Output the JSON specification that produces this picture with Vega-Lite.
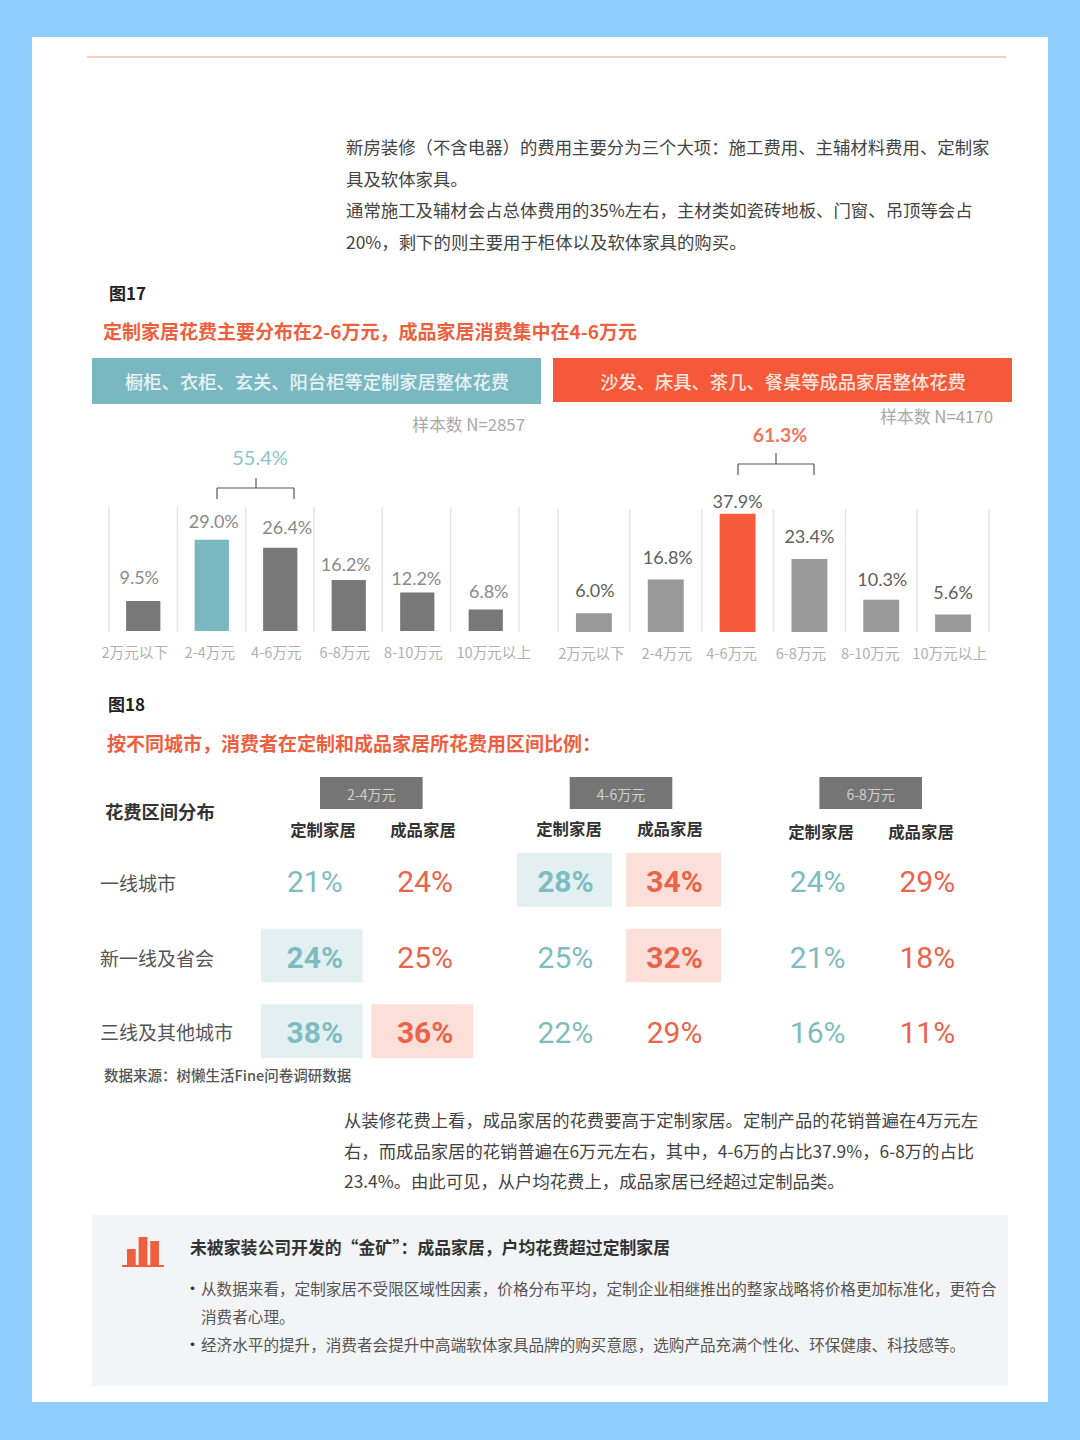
{
"$schema":"https://vega.github.io/schema/vega-lite/v6.json",
"width":1080,"height":1440,"padding":0,
"autosize":{"type":"fit","contains":"padding"},
"background":"#90CEFF",
"config":{"view":{"stroke":null},"font":"Noto Sans CJK SC","text":{"baseline":"middle","font":"Noto Sans CJK SC"}},
"resolve":{"scale":{"x":"independent","y":"independent"}},
"datasets":{
"bars1":[{"range":"2万元以下","v":9.5,"label":"9.5%"},{"range":"2-4万元","v":29.0,"label":"29.0%"},{"range":"4-6万元","v":26.4,"label":"26.4%"},{"range":"6-8万元","v":16.2,"label":"16.2%"},{"range":"8-10万元","v":12.2,"label":"12.2%"},{"range":"10万元以上","v":6.8,"label":"6.8%"}],
"bars2":[{"range":"2万元以下","v":6.0,"label":"6.0%"},{"range":"2-4万元","v":16.8,"label":"16.8%"},{"range":"4-6万元","v":37.9,"label":"37.9%"},{"range":"6-8万元","v":23.4,"label":"23.4%"},{"range":"8-10万元","v":10.3,"label":"10.3%"},{"range":"10万元以上","v":5.6,"label":"5.6%"}],
"edges":[{"edge":0},{"edge":1},{"edge":2},{"edge":3},{"edge":4},{"edge":5},{"edge":6}],
"ranges":[{"range":"2-4万元"},{"range":"4-6万元"},{"range":"6-8万元"}],
"types":[{"type":"定制家居"},{"type":"成品家居"}],
"table":[
{"range":"2-4万元","city":"一线城市","type":"定制家居","label":"21%","hl":false},{"range":"2-4万元","city":"一线城市","type":"成品家居","label":"24%","hl":false},
{"range":"2-4万元","city":"新一线及省会","type":"定制家居","label":"24%","hl":true},{"range":"2-4万元","city":"新一线及省会","type":"成品家居","label":"25%","hl":false},
{"range":"2-4万元","city":"三线及其他城市","type":"定制家居","label":"38%","hl":true},{"range":"2-4万元","city":"三线及其他城市","type":"成品家居","label":"36%","hl":true},
{"range":"4-6万元","city":"一线城市","type":"定制家居","label":"28%","hl":true},{"range":"4-6万元","city":"一线城市","type":"成品家居","label":"34%","hl":true},
{"range":"4-6万元","city":"新一线及省会","type":"定制家居","label":"25%","hl":false},{"range":"4-6万元","city":"新一线及省会","type":"成品家居","label":"32%","hl":true},
{"range":"4-6万元","city":"三线及其他城市","type":"定制家居","label":"22%","hl":false},{"range":"4-6万元","city":"三线及其他城市","type":"成品家居","label":"29%","hl":false},
{"range":"6-8万元","city":"一线城市","type":"定制家居","label":"24%","hl":false},{"range":"6-8万元","city":"一线城市","type":"成品家居","label":"29%","hl":false},
{"range":"6-8万元","city":"新一线及省会","type":"定制家居","label":"21%","hl":false},{"range":"6-8万元","city":"新一线及省会","type":"成品家居","label":"18%","hl":false},
{"range":"6-8万元","city":"三线及其他城市","type":"定制家居","label":"16%","hl":false},{"range":"6-8万元","city":"三线及其他城市","type":"成品家居","label":"11%","hl":false}
]
},
"layer":[
{"data":{"values":[{"part":"panel"}]},"mark":{"type":"rect","fill":"#ffffff"},"encoding":{"x":{"value":32},"x2":{"value":1048},"y":{"value":37},"y2":{"value":1402}}},
{"data":{"values":[{"part":"top rule"}]},"mark":{"type":"rule","stroke":"#F7CFBB","strokeWidth":2},"encoding":{"x":{"value":87},"x2":{"value":1006},"y":{"value":57}}},
{"data":{"values":[{"line":1,"t":"新房装修（不含电器）的费用主要分为三个大项：施工费用、主辅材料费用、定制家"},{"line":2,"t":"具及软体家具。"},{"line":3,"t":"通常施工及辅材会占总体费用的35%左右，主材类如瓷砖地板、门窗、吊顶等会占"},{"line":4,"t":"20%，剩下的则主要用于柜体以及软体家具的购买。"}]},
 "mark":{"type":"text","align":"left","fontSize":17.4,"fill":"#444444"},
 "encoding":{"x":{"value":346},"y":{"field":"line","type":"quantitative","scale":{"domain":[1,4],"range":[149,244]},"axis":null},"text":{"field":"t"}}},
{"data":{"values":[{"t":"图17"}]},"mark":{"type":"text","align":"left","fontSize":17,"fontWeight":700,"fill":"#222222"},"encoding":{"x":{"value":109},"y":{"value":295},"text":{"field":"t"}}},
{"data":{"values":[{"t":"定制家居花费主要分布在2-6万元，成品家居消费集中在4-6万元"}]},"mark":{"type":"text","align":"left","fontSize":19,"fontWeight":700,"fill":"#EE5F40"},"encoding":{"x":{"value":103},"y":{"value":333},"text":{"field":"t"}}},
{"data":{"values":[{"part":"band"}]},"mark":{"type":"rect","fill":"#7AB8C1"},"encoding":{"x":{"value":92},"x2":{"value":541},"y":{"value":358},"y2":{"value":404}}},
{"data":{"values":[{"part":"band"}]},"mark":{"type":"rect","fill":"#F5593A"},"encoding":{"x":{"value":553},"x2":{"value":1012},"y":{"value":358},"y2":{"value":402}}},
{"data":{"values":[{"t":"橱柜、衣柜、玄关、阳台柜等定制家居整体花费"}]},"mark":{"type":"text","align":"center","fontSize":18.3,"fontWeight":500,"fill":"#E6F2F3"},"encoding":{"x":{"value":317},"y":{"value":384},"text":{"field":"t"}}},
{"data":{"values":[{"t":"沙发、床具、茶几、餐桌等成品家居整体花费"}]},"mark":{"type":"text","align":"center","fontSize":18.3,"fontWeight":500,"fill":"#FCE3DC"},"encoding":{"x":{"value":783},"y":{"value":384},"text":{"field":"t"}}},
{"data":{"values":[{"t":"样本数 N=2857"}]},"mark":{"type":"text","align":"right","fontSize":16.8,"fill":"#A8A8A8"},"encoding":{"x":{"value":525},"y":{"value":426},"text":{"field":"t"}}},
{"data":{"values":[{"t":"样本数 N=4170"}]},"mark":{"type":"text","align":"right","fontSize":16.8,"fill":"#A8A8A8"},"encoding":{"x":{"value":993},"y":{"value":418},"text":{"field":"t"}}},
{"data":{"values":[{"t":"55.4%"}]},"mark":{"type":"text","align":"center","font":"Lato","fontSize":20,"fill":"#8CC4C9"},"encoding":{"x":{"value":260},"y":{"value":459},"text":{"field":"t"}}},
{"data":{"values":[{"t":"61.3%"}]},"mark":{"type":"text","align":"center","font":"Lato","fontSize":19.5,"fontWeight":700,"fill":"#F0775C"},"encoding":{"x":{"value":780},"y":{"value":436},"text":{"field":"t"}}},
{"data":{"values":[{"part":"bracket"}]},"mark":{"type":"rule","stroke":"#555555","strokeWidth":1.2},"encoding":{"x":{"value":217},"x2":{"value":294},"y":{"value":488}}},
{"data":{"values":[{"part":"bracket"}]},"mark":{"type":"rule","stroke":"#555555","strokeWidth":1.2},"encoding":{"x":{"value":217},"y":{"value":488},"y2":{"value":499}}},
{"data":{"values":[{"part":"bracket"}]},"mark":{"type":"rule","stroke":"#555555","strokeWidth":1.2},"encoding":{"x":{"value":294},"y":{"value":488},"y2":{"value":499}}},
{"data":{"values":[{"part":"bracket"}]},"mark":{"type":"rule","stroke":"#555555","strokeWidth":1.2},"encoding":{"x":{"value":256},"y":{"value":478},"y2":{"value":488}}},
{"data":{"values":[{"part":"bracket"}]},"mark":{"type":"rule","stroke":"#555555","strokeWidth":1.2},"encoding":{"x":{"value":738},"x2":{"value":814},"y":{"value":464}}},
{"data":{"values":[{"part":"bracket"}]},"mark":{"type":"rule","stroke":"#555555","strokeWidth":1.2},"encoding":{"x":{"value":738},"y":{"value":464},"y2":{"value":475}}},
{"data":{"values":[{"part":"bracket"}]},"mark":{"type":"rule","stroke":"#555555","strokeWidth":1.2},"encoding":{"x":{"value":814},"y":{"value":464},"y2":{"value":475}}},
{"data":{"values":[{"part":"bracket"}]},"mark":{"type":"rule","stroke":"#555555","strokeWidth":1.2},"encoding":{"x":{"value":776},"y":{"value":453},"y2":{"value":464}}},
{"data":{"name":"edges"},"mark":{"type":"rule","stroke":"#E6E6E6","strokeWidth":1.5},"encoding":{"x":{"field":"edge","type":"quantitative","scale":{"domain":[0,6],"range":[109,519]},"axis":null},"y":{"value":507},"y2":{"value":632}}},
{"data":{"name":"edges"},"mark":{"type":"rule","stroke":"#E6E6E6","strokeWidth":1.5},"encoding":{"x":{"field":"edge","type":"quantitative","scale":{"domain":[0,6],"range":[558,989]},"axis":null},"y":{"value":509},"y2":{"value":632}}},
{"data":{"name":"bars1"},
 "encoding":{"x":{"field":"range","type":"nominal","scale":{"type":"band","domain":["2万元以下","2-4万元","4-6万元","6-8万元","8-10万元","10万元以上"],"range":[109,520],"paddingInner":0.5,"paddingOuter":0.25},"axis":null},
  "y":{"field":"v","type":"quantitative","scale":{"domain":[0,30],"range":[631,536.5]},"axis":null},"text":{"field":"label"}},
 "layer":[
 {"mark":{"type":"bar"},"encoding":{"text":null,"color":{"condition":{"test":"datum.range==='2-4万元'","value":"#79B8BF"},"value":"#787878"}}},
 {"transform":[{"filter":"datum.v==9.5"}],"mark":{"type":"text","font":"Lato","fontSize":18,"fill":"#8A8A8A","dx":-4,"dy":-22}},
 {"transform":[{"filter":"datum.v==29"}],"mark":{"type":"text","font":"Lato","fontSize":18,"fill":"#8A8A8A","dx":2,"dy":-17}},
 {"transform":[{"filter":"datum.v==26.4"}],"mark":{"type":"text","font":"Lato","fontSize":18,"fill":"#8A8A8A","dx":7,"dy":-19}},
 {"transform":[{"filter":"datum.v==16.2"}],"mark":{"type":"text","font":"Lato","fontSize":18,"fill":"#8A8A8A","dx":-3,"dy":-14}},
 {"transform":[{"filter":"datum.v==12.2"}],"mark":{"type":"text","font":"Lato","fontSize":18,"fill":"#8A8A8A","dx":-1,"dy":-13}},
 {"transform":[{"filter":"datum.v==6.8"}],"mark":{"type":"text","font":"Lato","fontSize":18,"fill":"#8A8A8A","dx":3,"dy":-17}},
 {"transform":[{"filter":"datum.v==9.5"}],"mark":{"type":"text","fontSize":14.6,"fill":"#B0B0B0","dx":-8.5,"dy":1},"encoding":{"y":{"datum":-7},"text":{"field":"range"}}},
 {"transform":[{"filter":"datum.v==29"}],"mark":{"type":"text","fontSize":14.6,"fill":"#B0B0B0","dx":-2,"dy":1},"encoding":{"y":{"datum":-7},"text":{"field":"range"}}},
 {"transform":[{"filter":"datum.v==26.4||datum.v==16.2||datum.v==12.2"}],"mark":{"type":"text","fontSize":14.6,"fill":"#B0B0B0","dx":-4,"dy":1},"encoding":{"y":{"datum":-7},"text":{"field":"range"}}},
 {"transform":[{"filter":"datum.v==6.8"}],"mark":{"type":"text","fontSize":14.6,"fill":"#B0B0B0","dx":8,"dy":1},"encoding":{"y":{"datum":-7},"text":{"field":"range"}}}
 ]},
{"data":{"name":"bars2"},
 "encoding":{"x":{"field":"range","type":"nominal","scale":{"type":"band","domain":["2万元以下","2-4万元","4-6万元","6-8万元","8-10万元","10万元以上"],"range":[558,989],"paddingInner":0.5,"paddingOuter":0.25},"axis":null},
  "y":{"field":"v","type":"quantitative","scale":{"domain":[0,40],"range":[632,507.2]},"axis":null},"text":{"field":"label"}},
 "layer":[
 {"mark":{"type":"bar"},"encoding":{"text":null,"color":{"condition":{"test":"datum.range==='4-6万元'","value":"#F75B3C"},"value":"#999999"}}},
 {"transform":[{"filter":"datum.v==6"}],"mark":{"type":"text","font":"Lato","fontSize":18,"fill":"#5E5E5E","dx":1,"dy":-21}},
 {"transform":[{"filter":"datum.v==16.8"}],"mark":{"type":"text","font":"Lato","fontSize":18,"fill":"#5E5E5E","dx":2,"dy":-21}},
 {"transform":[{"filter":"datum.v==37.9"}],"mark":{"type":"text","font":"Lato","fontSize":18,"fill":"#5E5E5E","dx":0,"dy":-11}},
 {"transform":[{"filter":"datum.v==23.4"}],"mark":{"type":"text","font":"Lato","fontSize":18,"fill":"#5E5E5E","dx":0,"dy":-21}},
 {"transform":[{"filter":"datum.v==10.3"}],"mark":{"type":"text","font":"Lato","fontSize":18,"fill":"#5E5E5E","dx":1,"dy":-19}},
 {"transform":[{"filter":"datum.v==5.6"}],"mark":{"type":"text","font":"Lato","fontSize":18,"fill":"#5E5E5E","dx":0,"dy":-21}},
 {"transform":[{"filter":"datum.v==6"}],"mark":{"type":"text","fontSize":14.6,"fill":"#B0B0B0","dx":-2.5,"dy":1},"encoding":{"y":{"datum":-7},"text":{"field":"range"}}},
 {"transform":[{"filter":"datum.v==16.8"}],"mark":{"type":"text","fontSize":14.6,"fill":"#B0B0B0","dx":1,"dy":1},"encoding":{"y":{"datum":-7},"text":{"field":"range"}}},
 {"transform":[{"filter":"datum.v==37.9"}],"mark":{"type":"text","fontSize":14.6,"fill":"#B0B0B0","dx":-6,"dy":1},"encoding":{"y":{"datum":-7},"text":{"field":"range"}}},
 {"transform":[{"filter":"datum.v==23.4"}],"mark":{"type":"text","fontSize":14.6,"fill":"#B0B0B0","dx":-8.5,"dy":1},"encoding":{"y":{"datum":-7},"text":{"field":"range"}}},
 {"transform":[{"filter":"datum.v==10.3"}],"mark":{"type":"text","fontSize":14.6,"fill":"#B0B0B0","dx":-11,"dy":1},"encoding":{"y":{"datum":-7},"text":{"field":"range"}}},
 {"transform":[{"filter":"datum.v==5.6"}],"mark":{"type":"text","fontSize":14.6,"fill":"#B0B0B0","dx":-3.5,"dy":1},"encoding":{"y":{"datum":-7},"text":{"field":"range"}}}
 ]},
{"data":{"values":[{"t":"图18"}]},"mark":{"type":"text","align":"left","fontSize":17,"fontWeight":700,"fill":"#222222"},"encoding":{"x":{"value":108},"y":{"value":706},"text":{"field":"t"}}},
{"data":{"values":[{"t":"按不同城市，消费者在定制和成品家居所花费用区间比例："}]},"mark":{"type":"text","align":"left","fontSize":19,"fontWeight":700,"fill":"#EE5F40"},"encoding":{"x":{"value":107},"y":{"value":745},"text":{"field":"t"}}},
{"data":{"values":[{"t":"花费区间分布"}]},"mark":{"type":"text","align":"left","fontSize":18.3,"fontWeight":700,"fill":"#333333"},"encoding":{"x":{"value":105},"y":{"value":814},"text":{"field":"t"}}},
{"data":{"name":"ranges"},
 "encoding":{"x":{"field":"range","type":"nominal","scale":{"type":"band","domain":["2-4万元","4-6万元","6-8万元"],"range":[320,922],"paddingInner":0.589,"paddingOuter":0},"axis":null}},
 "layer":[
 {"mark":{"type":"rect","fill":"#757575"},"encoding":{"y":{"value":777},"y2":{"value":809}}},
 {"mark":{"type":"text","fontSize":14,"fill":"#CFCFCF"},"encoding":{"y":{"value":796},"text":{"field":"range"}}}
 ]},
{"data":{"name":"types"},"mark":{"type":"text","fontSize":16.4,"fontWeight":700,"fill":"#333333"},"encoding":{"x":{"field":"type","type":"nominal","scale":{"type":"point","domain":["定制家居","成品家居"],"range":[323,423],"padding":0},"axis":null},"y":{"value":831},"text":{"field":"type"}}},
{"data":{"name":"types"},"mark":{"type":"text","fontSize":16.4,"fontWeight":700,"fill":"#333333"},"encoding":{"x":{"field":"type","type":"nominal","scale":{"type":"point","domain":["定制家居","成品家居"],"range":[569,670],"padding":0},"axis":null},"y":{"value":830},"text":{"field":"type"}}},
{"data":{"name":"types"},"mark":{"type":"text","fontSize":16.4,"fontWeight":700,"fill":"#333333"},"encoding":{"x":{"field":"type","type":"nominal","scale":{"type":"point","domain":["定制家居","成品家居"],"range":[821,921],"padding":0},"axis":null},"y":{"value":833},"text":{"field":"type"}}},
{"data":{"values":[{"city":"一线城市"},{"city":"新一线及省会"},{"city":"三线及其他城市"}]},"mark":{"type":"text","align":"left","fontSize":19,"fill":"#555555","dy":3},"encoding":{"x":{"value":100},"y":{"field":"city","type":"nominal","scale":{"type":"band","domain":["一线城市","新一线及省会","三线及其他城市"],"range":[855.5,1057.5],"paddingInner":0.29,"paddingOuter":0},"axis":null},"text":{"field":"city"}}},
{"data":{"name":"table"},"transform":[{"filter":"datum.range==='2-4万元'"}],
 "encoding":{"x":{"field":"type","type":"nominal","scale":{"type":"band","domain":["定制家居","成品家居"],"range":[261,473],"paddingInner":0.08,"paddingOuter":0},"axis":null},
 "y":{"field":"city","type":"nominal","scale":{"type":"band","domain":["一线城市","新一线及省会","三线及其他城市"],"range":[853,1058],"paddingInner":0.29,"paddingOuter":0},"axis":null}},
 "layer":[
 {"transform":[{"filter":"datum.hl"}],"mark":{"type":"rect"},"encoding":{"color":{"condition":{"test":"datum.type==='定制家居'","value":"#E2F0F1"},"value":"#FDDFD9"}}},
 {"transform":[{"filter":"!datum.hl"}],"mark":{"type":"text","font":"Roboto","fontSize":30,"fontWeight":400,"dx":3,"dy":3},"encoding":{"text":{"field":"label"},"color":{"condition":{"test":"datum.type==='定制家居'","value":"#7FBCC1"},"value":"#E9644A"}}},
 {"transform":[{"filter":"datum.hl"}],"mark":{"type":"text","font":"Roboto","fontSize":30,"fontWeight":700,"dx":3,"dy":3},"encoding":{"text":{"field":"label"},"color":{"condition":{"test":"datum.type==='定制家居'","value":"#7FBCC1"},"value":"#E9644A"}}}
 ]},
{"data":{"name":"table"},"transform":[{"filter":"datum.range==='4-6万元'"}],
 "encoding":{"x":{"field":"type","type":"nominal","scale":{"type":"band","domain":["定制家居","成品家居"],"range":[517,721],"paddingInner":0.13,"paddingOuter":0},"axis":null},
 "y":{"field":"city","type":"nominal","scale":{"type":"band","domain":["一线城市","新一线及省会","三线及其他城市"],"range":[853,1058],"paddingInner":0.29,"paddingOuter":0},"axis":null}},
 "layer":[
 {"transform":[{"filter":"datum.hl"}],"mark":{"type":"rect"},"encoding":{"color":{"condition":{"test":"datum.type==='定制家居'","value":"#E2F0F1"},"value":"#FDDFD9"}}},
 {"transform":[{"filter":"!datum.hl"}],"mark":{"type":"text","font":"Roboto","fontSize":30,"fontWeight":400,"dx":1,"dy":3},"encoding":{"text":{"field":"label"},"color":{"condition":{"test":"datum.type==='定制家居'","value":"#7FBCC1"},"value":"#E9644A"}}},
 {"transform":[{"filter":"datum.hl"}],"mark":{"type":"text","font":"Roboto","fontSize":30,"fontWeight":700,"dx":1,"dy":3},"encoding":{"text":{"field":"label"},"color":{"condition":{"test":"datum.type==='定制家居'","value":"#7FBCC1"},"value":"#E9644A"}}}
 ]},
{"data":{"name":"table"},"transform":[{"filter":"datum.range==='6-8万元'"}],
 "mark":{"type":"text","font":"Roboto","fontSize":30,"fontWeight":400,"dy":3},
 "encoding":{"x":{"field":"type","type":"nominal","scale":{"type":"band","domain":["定制家居","成品家居"],"range":[770,975],"paddingInner":0.13,"paddingOuter":0},"axis":null},
 "y":{"field":"city","type":"nominal","scale":{"type":"band","domain":["一线城市","新一线及省会","三线及其他城市"],"range":[853,1058],"paddingInner":0.29,"paddingOuter":0},"axis":null},
 "text":{"field":"label"},"color":{"condition":{"test":"datum.type==='定制家居'","value":"#7FBCC1"},"value":"#E9644A"}}},
{"data":{"values":[{"t":"数据来源：树懒生活Fine问卷调研数据"}]},"mark":{"type":"text","align":"left","fontSize":14.5,"fontWeight":500,"fill":"#555555"},"encoding":{"x":{"value":104},"y":{"value":1077},"text":{"field":"t"}}},
{"data":{"values":[{"line":1,"t":"从装修花费上看，成品家居的花费要高于定制家居。定制产品的花销普遍在4万元左"},{"line":2,"t":"右，而成品家居的花销普遍在6万元左右，其中，4-6万的占比37.9%，6-8万的占比"},{"line":3,"t":"23.4%。由此可见，从户均花费上，成品家居已经超过定制品类。"}]},
 "mark":{"type":"text","align":"left","fontSize":17.35,"fill":"#444444"},
 "encoding":{"x":{"value":344},"y":{"field":"line","type":"quantitative","scale":{"domain":[1,3],"range":[1122,1183]},"axis":null},"text":{"field":"t"}}},
{"data":{"values":[{"part":"box"}]},"mark":{"type":"rect","fill":"#F3F4F6"},"encoding":{"x":{"value":92},"x2":{"value":1008},"y":{"value":1215},"y2":{"value":1386}}},
{"data":{"values":[{"bar":"a","h":16},{"bar":"b","h":28},{"bar":"c","h":24}]},"mark":{"type":"bar","fill":"#EE5F40"},"encoding":{"x":{"field":"bar","type":"nominal","scale":{"type":"band","range":[127,159],"paddingInner":0.25,"paddingOuter":0},"axis":null},"y":{"field":"h","type":"quantitative","scale":{"domain":[0,28],"range":[1265,1237]},"axis":null}}},
{"data":{"values":[{"part":"icon base"}]},"mark":{"type":"rule","stroke":"#EE5F40","strokeWidth":2},"encoding":{"x":{"value":122},"x2":{"value":164},"y":{"value":1266}}},
{"data":{"values":[{"t":"未被家装公司开发的“金矿”：成品家居，户均花费超过定制家居"}]},"mark":{"type":"text","align":"left","fontSize":16.85,"fontWeight":700,"fill":"#333333"},"encoding":{"x":{"value":190},"y":{"value":1249},"text":{"field":"t"}}},
{"data":{"values":[{"line":1,"t":"从数据来看，定制家居不受限区域性因素，价格分布平均，定制企业相继推出的整家战略将价格更加标准化，更符合"},{"line":2,"t":"消费者心理。"},{"line":3,"t":"经济水平的提升，消费者会提升中高端软体家具品牌的购买意愿，选购产品充满个性化、环保健康、科技感等。"}]},
 "mark":{"type":"text","align":"left","fontSize":15.6,"fill":"#555555"},
 "encoding":{"x":{"value":201},"y":{"field":"line","type":"quantitative","scale":{"domain":[1,3],"range":[1290,1346]},"axis":null},"text":{"field":"t"}}},
{"data":{"values":[{"line":1,"t":"•"},{"line":3,"t":"•"}]},
 "mark":{"type":"text","align":"left","fontSize":17,"fill":"#333333"},
 "encoding":{"x":{"value":184},"y":{"field":"line","type":"quantitative","scale":{"domain":[1,3],"range":[1290,1346]},"axis":null},"text":{"field":"t"}}}
]
}
